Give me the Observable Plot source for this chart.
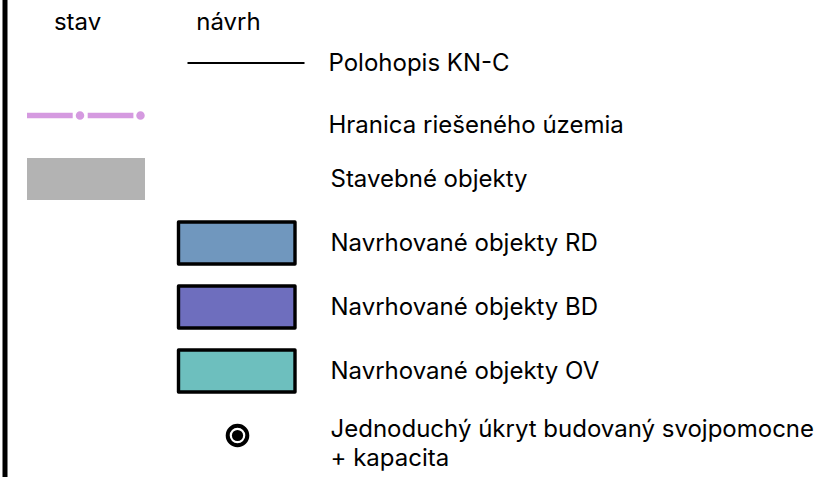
<!DOCTYPE html>
<html><head><meta charset="utf-8">
<script src="https://cdn.jsdelivr.net/npm/d3@7"></script>
<script src="https://cdn.jsdelivr.net/npm/@observablehq/plot@0.6"></script>
<style>html,body{margin:0;padding:0;background:#fff} svg{display:block}</style>
</head><body><div id="chart"></div>
<script>
// ---- data ----
const columns = ["stav", "návrh", "popis"];
const headers = ["stav", "návrh"];
const labels = [
  "Polohopis KN-C",
  "Hranica riešeného územia",
  "Stavebné objekty",
  "Navrhované objekty RD",
  "Navrhované objekty BD",
  "Navrhované objekty OV",
  "Jednoduchý úkryt budovaný svojpomocne\n+ kapacita"
];
const itemColumn = ["návrh", "stav", "stav", "návrh", "návrh", "návrh", "návrh"];
const symbols = ["line", "dashdot", "area", "box", "box", "box", "shelter"];

// ---- styles ----
const fillOf = {
  "Stavebné objekty": "#b3b3b3",
  "Navrhované objekty RD": "#7097be",
  "Navrhované objekty BD": "#6e6ebe",
  "Navrhované objekty OV": "#6dbfbe"
};
const pink = "#d59ae0";
const font = "Inter, 'Liberation Sans', sans-serif";
const fs = 24;

const items = labels.map((label, i) => ({label, column: itemColumn[i], symbol: symbols[i]}));
const bySym = s => items.filter(d => d.symbol === s);
const headRows = headers.map(h => ({column: h}));

const bandStep = 151.5, bandW = 118;
const rowStep = 64.9, rowTop = 16.25;

const chart = Plot.plot({
  width: 827, height: 477,
  marginLeft: 4.5, marginRight: 0, marginTop: 0, marginBottom: 0,
  style: {fontFamily: font, background: "#fff"},
  x: {type: "band", domain: columns, range: [26, 26 + 2 * bandStep + bandW], paddingInner: 1 - bandW / bandStep, paddingOuter: 0, axis: null},
  y: {type: "band", domain: labels, range: [rowTop, rowTop + labels.length * rowStep], padding: 0, axis: null},
  marks: [
    Plot.frame({anchor: "left", stroke: "#000", strokeWidth: 5}),
    // headers
    Plot.text(headRows, {x: "column", text: "column", frameAnchor: "top", lineAnchor: "middle", dy: 22, dx: -9, fontSize: fs, fill: "#000"}),
    // Polohopis line
    Plot.tickY(bySym("line"), {x: "column", y: "label", dy: 11.5, insetLeft: 9.5, insetRight: -8.5, stroke: "#000", strokeWidth: 1.8}),
    // dash-dot boundary
    Plot.tickY(bySym("dashdot"), {x: "column", y: "label", stroke: pink, strokeWidth: 5.5, strokeDasharray: "45.7 15", strokeLinecap: "butt"}),
    Plot.tickY(bySym("dashdot"), {x: "column", y: "label", stroke: pink, strokeWidth: 8.5, strokeDasharray: "0 60.5", strokeDashoffset: 7.5, strokeLinecap: "round"}),
    // existing buildings
    Plot.cell(bySym("area"), {x: "column", y: "label", fill: d => fillOf[d.label], insetTop: 11, insetBottom: 11}),
    // proposed buildings
    Plot.cell(bySym("box"), {x: "column", y: "label", fill: d => fillOf[d.label], stroke: "#000", strokeWidth: 3.4, strokeLinejoin: "round", insetTop: 11, insetBottom: 11, insetLeft: 0.5, insetRight: 1}),
    // shelter symbol
    Plot.dot(bySym("shelter"), {x: "column", y: "label", r: 9.8, stroke: "#000", strokeWidth: 4, fill: "#fff"}),
    Plot.dot(bySym("shelter"), {x: "column", y: "label", r: 5.6, fill: "#000"}),
    // labels
    Plot.text(items.filter((d, i) => i === 0), {x: () => "popis", y: "label", text: "label", textAnchor: "start", dx: -bandW / 2 - 1, dy: 11.5, fontSize: fs, fill: "#000"}),
    Plot.text(items.filter((d, i) => i === 1), {x: () => "popis", y: "label", text: "label", textAnchor: "start", dx: -bandW / 2 - 1, dy: 10, fontSize: fs, fill: "#000"}),
    Plot.text(items.filter((d, i) => i >= 2 && i <= 5), {x: () => "popis", y: "label", text: "label", textAnchor: "start", dx: -bandW / 2 + 1, fontSize: fs, fill: "#000"}),
    Plot.text(items.filter((d, i) => i === 6), {x: () => "popis", y: "label", text: "label", textAnchor: "start", dx: -bandW / 2 + 1, dy: 6.5, lineHeight: 1.22, fontSize: fs, fill: "#000"})
  ]
});
document.getElementById("chart").appendChild(chart);
</script>
</body></html>
